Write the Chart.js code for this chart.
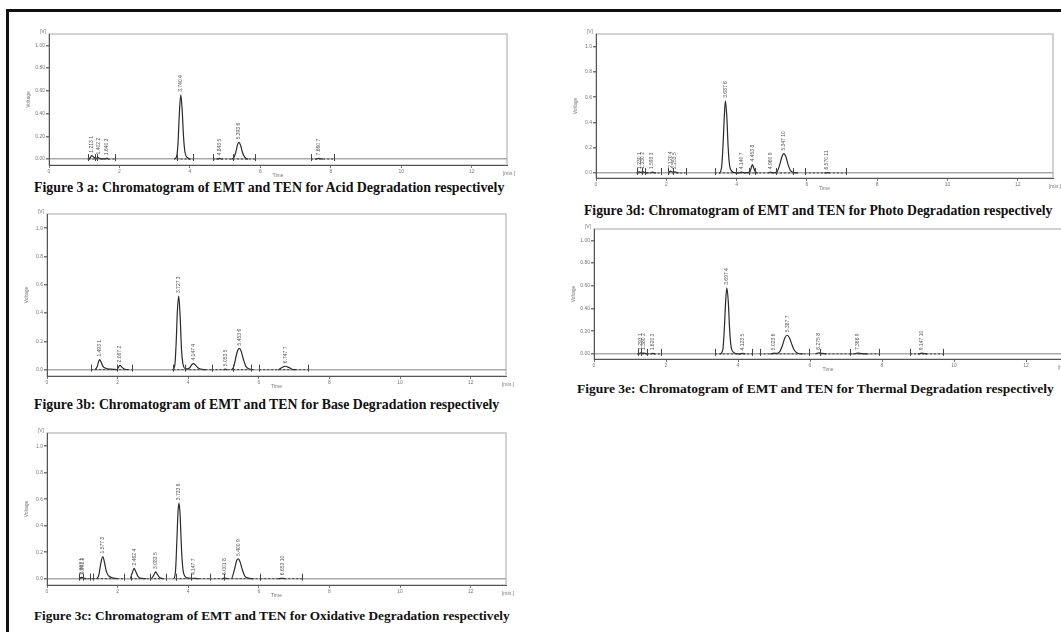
<!DOCTYPE html>
<html>
<head>
<meta charset="utf-8">
<script src="https://cdn.jsdelivr.net/npm/chart.js@4.4.0/dist/chart.umd.min.js"></script>
<style>
body { margin: 0; width: 1061px; height: 632px; overflow: hidden; background: #fff; position: relative; }
#frame { position: absolute; left: 6px; top: 9px; width: 1100px; height: 700px; border-left: 3px solid #111; border-top: 3px solid #111; }
canvas { position: absolute; }
.cap { position: absolute; font-family: "Liberation Serif", serif; font-weight: bold; font-size: 13.8px; line-height: 16px; white-space: nowrap; color: #111; }
</style>
</head>
<body>
<div id="frame"></div>

<canvas id="chartA" width="498" height="151" style="left:24px;top:28px"></canvas>
<div class="cap" style="left:34px;top:180px;font-size:13.9px">Figure 3 a: Chromatogram of EMT and TEN for Acid Degradation respectively</div>

<canvas id="chartB" width="499" height="182" style="left:22px;top:208px"></canvas>
<div class="cap" style="left:34px;top:397px">Figure 3b: Chromatogram of EMT and TEN for Base Degradation respectively</div>

<canvas id="chartC" width="499" height="172" style="left:22px;top:427px"></canvas>
<div class="cap" style="left:34px;top:608px;font-size:13.3px">Figure 3c: Chromatogram of EMT and TEN for Oxidative Degradation respectively</div>

<canvas id="chartD" width="497" height="164" style="left:571px;top:28px"></canvas>
<div class="cap" style="left:584px;top:203px;font-size:13.7px">Figure 3d: Chromatogram of EMT and TEN for Photo Degradation respectively</div>

<canvas id="chartE" width="508" height="150" style="left:569px;top:223px"></canvas>
<div class="cap" style="left:577px;top:381px;font-size:13.5px">Figure 3e: Chromatogram of EMT and TEN for Thermal Degradation respectively</div>

<script>
// axis ticks
const timeTicks = [0, 2, 4, 6, 8, 10, 12];
const voltTicks = [0, 0.2, 0.4, 0.6, 0.8, 1.0];

// traces [time (min), voltage (V)]
const acidTrace = [[0,0],[1.1,0],[1.17,0.012],[1.21,0.03],[1.26,0.02],[1.32,0.006],[1.36,0.01],[1.40,0.014],[1.45,0.004],[1.58,0.002],[1.64,0.008],[1.70,0],
  [3.55,0],[3.62,0.02],[3.66,0.13],[3.70,0.40],[3.74,0.565],[3.78,0.43],[3.82,0.19],[3.86,0.06],[3.92,0.015],[4.02,0],
  [4.75,0],[4.84,0.006],[4.93,0],[5.18,0],[5.26,0.02],[5.31,0.07],[5.35,0.125],[5.39,0.147],[5.44,0.12],[5.49,0.06],[5.55,0.02],[5.65,0],
  [7.55,0],[7.66,0.006],[7.78,0],[13,0]];
const baseTrace = [[0,0],[1.35,0],[1.42,0.02],[1.46,0.055],[1.49,0.071],[1.53,0.055],[1.58,0.025],[1.66,0.01],[1.80,0.003],[1.98,0],[2.03,0.02],[2.07,0.03],[2.12,0.018],[2.20,0.003],[2.30,0],
  [3.55,0],[3.62,0.03],[3.66,0.2],[3.69,0.4],[3.73,0.52],[3.77,0.38],[3.81,0.14],[3.85,0.04],[3.90,0.01],[3.98,0.005],[4.05,0.015],[4.10,0.035],[4.15,0.043],[4.21,0.03],[4.28,0.012],[4.40,0.002],[4.50,0],
  [5.00,0],[5.05,0.003],[5.10,0],[5.22,0],[5.30,0.03],[5.36,0.1],[5.41,0.14],[5.45,0.15],[5.50,0.13],[5.56,0.075],[5.63,0.025],[5.75,0.003],[5.85,0],
  [6.55,0],[6.65,0.015],[6.75,0.024],[6.85,0.015],[6.95,0.002],[7.05,0],[13,0]];
const oxidTrace = [[0,0],[0.90,0],[0.95,0.006],[0.99,0.01],[1.02,0.006],[1.06,0.002],[1.12,0],[1.40,0],[1.47,0.03],[1.52,0.11],[1.58,0.167],[1.63,0.12],[1.68,0.055],[1.75,0.02],[1.85,0.006],[2.00,0],
  [2.35,0],[2.41,0.04],[2.47,0.077],[2.52,0.05],[2.58,0.015],[2.70,0.002],[2.80,0],[2.95,0],[3.02,0.025],[3.08,0.051],[3.13,0.03],[3.20,0.006],[3.30,0],
  [3.58,0],[3.64,0.06],[3.68,0.3],[3.71,0.5],[3.74,0.57],[3.77,0.48],[3.81,0.22],[3.85,0.07],[3.90,0.02],[4.00,0.004],[4.14,0.003],[4.30,0],
  [4.95,0],[5.03,0.005],[5.12,0],[5.22,0],[5.31,0.07],[5.37,0.135],[5.42,0.149],[5.47,0.125],[5.53,0.07],[5.60,0.02],[5.70,0.004],[5.85,0],
  [6.55,0],[6.66,0.003],[6.75,0],[13,0]];
const photoTrace = [[0,0],[1.15,0],[1.22,0.008],[1.28,0.004],[1.33,0.01],[1.40,0.002],[1.50,0],[1.55,0],[1.60,0.006],[1.70,0],
  [2.05,0],[2.12,0.015],[2.18,0.006],[2.25,0.008],[2.35,0],[3.50,0],[3.57,0.04],[3.61,0.2],[3.65,0.45],[3.68,0.571],[3.72,0.45],[3.76,0.2],[3.80,0.06],[3.86,0.015],[3.95,0.002],[4.05,0],[4.14,0.006],[4.25,0],
  [4.38,0.01],[4.42,0.045],[4.45,0.067],[4.48,0.045],[4.53,0.01],[4.60,0],[4.90,0],[4.96,0.006],[5.05,0],[5.15,0.01],[5.22,0.06],[5.29,0.13],[5.34,0.153],[5.40,0.13],[5.46,0.07],[5.53,0.02],[5.62,0.003],[5.75,0],
  [6.50,0],[6.57,0.003],[6.65,0],[13,0]];
const thermalTrace = [[0,0],[1.20,0],[1.27,0.006],[1.31,0.009],[1.36,0.005],[1.39,0.008],[1.45,0.002],[1.52,0],[1.58,0],[1.62,0.005],[1.70,0],
  [3.50,0],[3.58,0.04],[3.62,0.22],[3.66,0.48],[3.69,0.582],[3.73,0.46],[3.77,0.2],[3.81,0.06],[3.87,0.015],[3.95,0.002],[4.05,0],[4.13,0.004],[4.20,0],
  [4.90,0],[5.00,0.006],[5.08,0.004],[5.16,0.02],[5.23,0.07],[5.30,0.14],[5.37,0.164],[5.43,0.14],[5.50,0.08],[5.57,0.03],[5.66,0.006],[5.80,0],
  [6.15,0],[6.24,0.01],[6.33,0.004],[6.45,0],[7.20,0],[7.32,0.007],[7.45,0.002],[7.60,0],[9.00,0],[9.11,0.006],[9.25,0],[13,0]];

// peak labels [time, height, text]
const acidPeaks = [[1.21,0.03,'1.213 1'],[1.40,0.014,'1.402 2'],[1.64,0.008,'1.640 3'],[3.74,0.565,'3.740 4'],[4.84,0.006,'4.843 5'],[5.39,0.147,'5.393 6'],[7.66,0.006,'7.660 7']];
const basePeaks = [[1.49,0.071,'1.493 1'],[2.07,0.03,'2.067 2'],[3.73,0.52,'3.727 3'],[4.15,0.043,'4.147 4'],[5.05,0.003,'5.053 5'],[5.45,0.15,'5.453 6'],[6.75,0.024,'6.747 7']];
const oxidPeaks = [[0.97,0.008,'0.967 1'],[1.00,0.01,'0.993 2'],[1.58,0.167,'1.577 3'],[2.47,0.077,'2.462 4'],[3.08,0.051,'3.083 5'],[3.74,0.57,'3.733 6'],[4.14,0.004,'4.147 7'],[5.03,0.005,'5.001 8'],[5.42,0.149,'5.400 9'],[6.66,0.003,'6.653 10']];
const photoPeaks = [[1.23,0.008,'1.230 1'],[1.33,0.01,'1.330 2'],[1.59,0.006,'1.593 3'],[2.12,0.015,'2.120 4'],[2.25,0.008,'2.253 5'],[3.68,0.571,'3.687 6'],[4.14,0.006,'4.140 7'],[4.45,0.067,'4.453 8'],[4.96,0.006,'4.960 9'],[5.34,0.153,'5.347 10'],[6.57,0.003,'6.570 11']];
const thermalPeaks = [[1.29,0.009,'1.293 1'],[1.38,0.008,'1.380 2'],[1.62,0.005,'1.620 3'],[3.69,0.582,'3.697 4'],[4.13,0.004,'4.123 5'],[5.00,0.006,'5.023 6'],[5.37,0.164,'5.387 7'],[6.24,0.01,'6.275 8'],[7.32,0.007,'7.366 9'],[9.11,0.006,'9.147 10']];

// integration events (min) and dashed baselines [start, end]
const acidMarks = [1.12, 1.30, 1.37, 1.87, 3.62, 4.09, 4.66, 5.22, 5.86, 7.44, 8.10];
const acidBase = [[1.12,1.87],[3.62,4.09],[4.66,5.22],[5.22,5.86],[7.44,8.10]];
const baseMarks = [1.25, 1.97, 2.40, 3.58, 3.92, 4.66, 5.27, 5.79, 6.01, 7.40];
const baseBase = [[1.25,2.40],[3.58,4.66],[4.66,5.27],[5.27,5.79],[6.01,7.40]];
const oxidMarks = [0.92, 1.01, 1.23, 1.30, 2.17, 2.37, 2.92, 3.37, 3.64, 4.08, 4.61, 5.00, 6.04, 7.22];
const oxidBase = [[0.92,1.30],[1.30,2.17],[2.37,2.92],[2.92,3.37],[3.64,4.08],[4.08,4.61],[4.61,5.00],[5.00,6.04],[6.04,7.22]];
const photoMarks = [1.18, 1.30, 1.38, 1.84, 2.05, 2.19, 2.55, 3.38, 3.99, 4.34, 4.53, 5.12, 5.61, 5.94, 7.10];
const photoBase = [[1.18,1.84],[2.05,2.55],[3.38,3.99],[3.99,4.34],[4.34,4.53],[4.53,5.12],[5.12,5.61],[5.94,7.10]];
const thermalMarks = [1.22, 1.30, 1.46, 1.86, 3.36, 4.39, 4.60, 5.96, 6.29, 7.12, 7.93, 8.78, 9.69];
const thermalBase = [[1.22,1.86],[3.36,4.39],[4.60,5.96],[6.29,7.12],[7.12,7.93],[8.78,9.69]];

Chart.defaults.font.family = '"Liberation Sans", Arial, sans-serif';

function extras(peaks, marks, segs) {
    return {
        id: 'extras',
        beforeDraw(chart) {
            const a = chart.chartArea, c = chart.ctx;
            c.save();
            c.strokeStyle = '#c4c4c4';
            c.lineWidth = 1.5;
            c.strokeRect(a.left, a.top, a.right - a.left, a.bottom - a.top);
            c.restore();
        },
        afterDatasetsDraw(chart) {
            const a = chart.chartArea, c = chart.ctx;
            const xs = chart.scales.x, ys = chart.scales.y;
            const y0 = ys.getPixelForValue(0);
            c.save();
            c.strokeStyle = '#444';
            c.lineWidth = 1;
            c.setLineDash([2, 2]);
            segs.forEach(s => {
                c.beginPath();
                c.moveTo(xs.getPixelForValue(s[0]), y0);
                c.lineTo(xs.getPixelForValue(s[1]), y0);
                c.stroke();
            });
            c.setLineDash([]);
            marks.forEach(m => {
                const x = Math.round(xs.getPixelForValue(m)) + 0.5;
                c.beginPath();
                c.moveTo(x, y0 + 2);
                c.lineTo(x, y0 - 5);
                c.stroke();
            });
            c.fillStyle = '#555';
            c.font = '5px "Liberation Sans"';
            c.textBaseline = 'middle';
            c.textAlign = 'left';
            peaks.forEach(p => {
                c.save();
                c.translate(xs.getPixelForValue(p[0]), ys.getPixelForValue(p[1]) - 3);
                c.rotate(-Math.PI / 2);
                c.fillText(p[2], 0, 0);
                c.restore();
            });
            c.fillStyle = '#777';
            c.textAlign = 'right';
            c.fillText('[V]', a.left - 3, a.top - 2);
            c.textAlign = 'center';
            c.fillText('[min.]', a.right + 2, a.bottom + 9);
            c.restore();
        }
    };
}

function chromatogram(id, trace, peaks, marks, segs, yMin, digits) {
    new Chart(document.getElementById(id), {
        type: 'line',
        data: {
            datasets: [{
                data: trace.map(p => ({ x: p[0], y: p[1] })),
                borderColor: '#2a2a2a',
                borderWidth: 1.2,
                pointRadius: 0,
                cubicInterpolationMode: 'monotone',
                segment: {
                    borderColor: s => (s.p0.parsed.y === 0 && s.p1.parsed.y === 0) ? 'rgba(0,0,0,0)' : undefined
                }
            }]
        },
        options: {
            responsive: false,
            animation: false,
            layout: { padding: { top: 6, right: 15, left: 0, bottom: 0 } },
            plugins: { legend: { display: false }, tooltip: { enabled: false } },
            scales: {
                x: {
                    type: 'linear', min: 0, max: 13,
                    afterBuildTicks: s => { s.ticks = timeTicks.map(v => ({ value: v })); },
                    afterFit: s => { s.height = 14; },
                    ticks: { font: { size: 5 }, color: '#777', padding: 1, maxRotation: 0, autoSkip: false },
                    grid: { drawOnChartArea: false, tickLength: 3, tickColor: '#777' },
                    border: { color: '#555', width: 1 },
                    title: { display: true, text: 'Time', font: { size: 5 }, color: '#777', padding: 0 }
                },
                y: {
                    type: 'linear', min: yMin, max: 1.1,
                    afterBuildTicks: s => { s.ticks = voltTicks.map(v => ({ value: v })); },
                    afterFit: s => { s.width = 25; },
                    ticks: { font: { size: 5 }, color: '#777', padding: 1, callback: v => v.toFixed(digits) },
                    grid: {
                        color: c => (c.tick && c.tick.value === 0) ? '#aaa' : 'rgba(0,0,0,0)',
                        lineWidth: 1.5, tickLength: 3, tickColor: '#777'
                    },
                    border: { color: '#555', width: 1 },
                    title: { display: true, text: 'Voltage', font: { size: 5 }, color: '#777', padding: 2 }
                }
            }
        },
        plugins: [extras(peaks, marks, segs)]
    });
}

chromatogram('chartA', acidTrace, acidPeaks, acidMarks, acidBase, -0.052, 2);
chromatogram('chartB', baseTrace, basePeaks, baseMarks, baseBase, -0.045, 1);
chromatogram('chartC', oxidTrace, oxidPeaks, oxidMarks, oxidBase, -0.048, 1);
chromatogram('chartD', photoTrace, photoPeaks, photoMarks, photoBase, -0.04, 1);
chromatogram('chartE', thermalTrace, thermalPeaks, thermalMarks, thermalBase, -0.045, 2);
</script>
</body>
</html>
